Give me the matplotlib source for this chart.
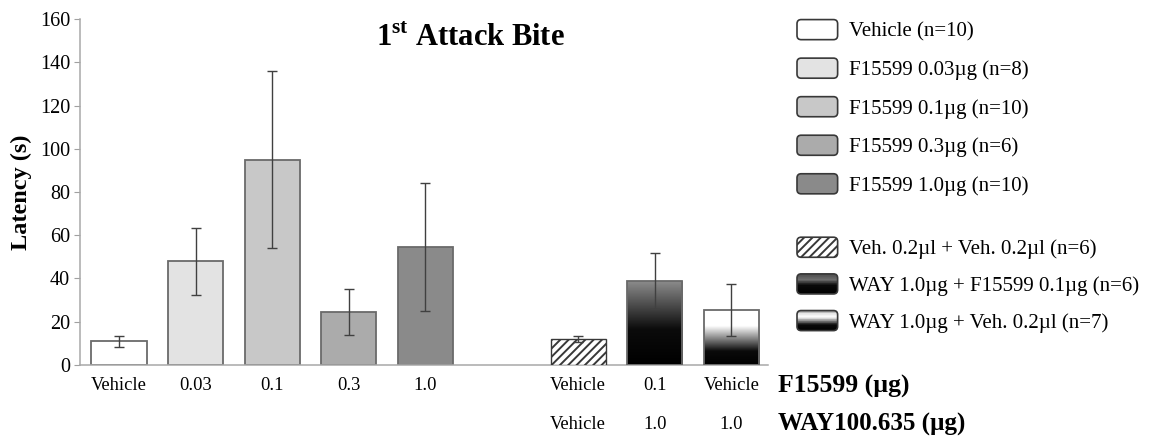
import numpy as np
import matplotlib
matplotlib.use("Agg")
import matplotlib.pyplot as plt
from matplotlib.colors import LinearSegmentedColormap
from matplotlib.patches import FancyBboxPatch, Rectangle
from matplotlib.legend_handler import HandlerBase

plt.rcParams['font.family'] = 'serif'
plt.rcParams['font.serif'] = ['Liberation Serif', 'DejaVu Serif']
plt.rcParams['mathtext.fontset'] = 'custom'
plt.rcParams['mathtext.rm'] = 'Liberation Serif'
plt.rcParams['mathtext.bf'] = 'Liberation Serif:bold'
plt.rcParams['hatch.linewidth'] = 1.4

# dose-response group (F15599 alone)
dose_labels = ['Vehicle', '0.03', '0.1', '0.3', '1.0']
dose_means = [11, 48, 95, 24.5, 54.5]
dose_err = [2.5, 15.5, 41, 10.5, 29.5]
dose_legend = ['Vehicle (n=10)', 'F15599 0.03µg (n=8)', 'F15599 0.1µg (n=10)',
               'F15599 0.3µg (n=6)', 'F15599 1.0µg (n=10)']

# antagonist group (WAY100.635 pre-treatment)
way_f15599 = ['Vehicle', '0.1', 'Vehicle']
way_dose = ['Vehicle', '1.0', '1.0']
way_means = [12, 39, 25.5]
way_err = [1.5, 13, 12]
way_legend = ['Veh. 0.2µl + Veh. 0.2µl (n=6)', 'WAY 1.0µg + F15599 0.1µg (n=6)',
              'WAY 1.0µg + Veh. 0.2µl (n=7)']

dose_colors = ['#ffffff', '#e3e3e3', '#c8c8c8', '#ababab', '#8a8a8a']
edge = '#6a6a6a'

# gradients, bottom -> top
grad_bar = [
    LinearSegmentedColormap.from_list('g1', [(0, '#000000'), (0.42, '#0b0b0b'), (1, '#8e8e8e')]),
    LinearSegmentedColormap.from_list('g2', [(0, '#000000'), (0.25, '#0b0b0b'), (0.7, '#ffffff'), (1, '#ffffff')]),
]
grad_icon = [
    LinearSegmentedColormap.from_list('i1', [(0, '#000000'), (0.45, '#0a0a0a'), (0.72, '#6e6e6e'), (1, '#4a4a4a')]),
    LinearSegmentedColormap.from_list('i2', [(0, '#000000'), (0.3, '#0a0a0a'), (0.68, '#ffffff'),
                                             (0.85, '#e6e6e6'), (1, '#8a8a8a')]),
]


class BoxHandler(HandlerBase):
    # rounded legend swatch, optionally hatched or with a vertical gradient
    def __init__(self, face='white', hatch=None, cmap=None):
        HandlerBase.__init__(self)
        self.face = face
        self.hatch = hatch
        self.cmap = cmap

    def create_artists(self, legend, orig_handle, xdescent, ydescent,
                       width, height, fontsize, trans):
        x0, y0 = -xdescent, -ydescent - 1
        h = height + 2
        box = FancyBboxPatch((x0, y0), width, h,
                             boxstyle='round,pad=0,rounding_size=3',
                             facecolor='none' if self.cmap else self.face,
                             edgecolor='#383838', lw=1.2, hatch=self.hatch,
                             transform=trans)
        artists = []
        if self.cmap is not None:
            n = 30
            for i in range(n):
                r = Rectangle((x0, y0 + h * i / n), width, h / n + 0.3,
                              facecolor=self.cmap((i + 0.5) / n), edgecolor='none',
                              transform=trans)
                r.set_clip_path(box)
                artists.append(r)
        artists.append(box)
        return artists


fig = plt.figure(figsize=(11.49, 4.37), dpi=100)
ax = fig.add_axes([0.0696, 0.1648, 0.5988, 0.7917])

x_dose = np.arange(len(dose_means))
x_way = np.arange(len(way_means)) + len(dose_means) + 1
width = 0.72

ax.bar(x_dose, dose_means, width, color=dose_colors, edgecolor=edge, lw=1.3, zorder=2)
ax.errorbar(x_dose, dose_means, yerr=dose_err, fmt='none', ecolor='#404040',
            elinewidth=1, capsize=3.5, capthick=1, zorder=4)

way_bars = ax.bar(x_way, way_means, width, color=['white', 'none', 'none'],
                  edgecolor=['#383838', edge, edge], lw=1.0, zorder=3)
way_bars[0].set_hatch('////')
for bar, cm in zip(way_bars[1:], grad_bar):
    bar.set_linewidth(1.3)
    bx, bw, bh = bar.get_x(), bar.get_width(), bar.get_height()
    im = ax.imshow(np.linspace(0, 1, 256).reshape(-1, 1), cmap=cm, origin='lower',
                   extent=[bx, bx + bw, 0, bh], aspect='auto', zorder=2)
    im.set_clip_path(bar)
ax.errorbar(x_way, way_means, yerr=way_err, fmt='none', ecolor='#404040',
            elinewidth=1, capsize=3.5, capthick=1, zorder=4)

ax.set_xlim(-0.51, x_way[-1] + 0.48)
ax.set_ylim(0, 160)
ax.set_yticks(np.arange(0, 161, 20))
ax.set_xticks(np.concatenate([x_dose, x_way]))
ax.set_xticklabels(dose_labels + way_f15599)
ax.tick_params(axis='x', length=0, pad=9, labelsize=13.3)
ax.tick_params(axis='y', length=4, color='#a0a0a0', labelsize=14.5, pad=3)
for s in ['top', 'right']:
    ax.spines[s].set_visible(False)
for s in ['left', 'bottom']:
    ax.spines[s].set_color('#a8a8a8')
    ax.spines[s].set_linewidth(1.1)

trans = ax.get_xaxis_transform()
for xp, lab in zip(x_way, way_dose):
    ax.text(xp, -0.173, lab, transform=trans, ha='center', va='center', fontsize=13.3)
ax.text(1.0145, -0.063, 'F15599 (µg)', transform=ax.transAxes, ha='left', va='center',
        fontsize=18.5, fontweight='bold')
ax.text(1.0145, -0.173, 'WAY100.635 (µg)', transform=ax.transAxes, ha='left', va='center',
        fontsize=18, fontweight='bold')

ax.set_ylabel('Latency (s)', fontsize=17.5, fontweight='bold', labelpad=6)
ax.text(0.567, 0.945, r'1$^{\mathbf{st}}$ Attack Bite', transform=ax.transAxes,
        ha='center', va='center', fontsize=22, fontweight='bold')

# legends
h1 = [Rectangle((0, 0), 1, 1) for _ in dose_legend]
hm1 = {h: BoxHandler(face=c) for h, c in zip(h1, dose_colors)}
leg1 = fig.legend(h1, dose_legend, handler_map=hm1, loc='upper left',
                  bbox_to_anchor=(797 / 1149, 0.952), frameon=False, fontsize=15,
                  borderpad=0, borderaxespad=0, handlelength=1.95, handleheight=0.9,
                  handletextpad=0.55, labelspacing=0.85)

h2 = [Rectangle((0, 0), 1, 1) for _ in way_legend]
hm2 = {h2[0]: BoxHandler(hatch='////'), h2[1]: BoxHandler(cmap=grad_icon[0]),
       h2[2]: BoxHandler(cmap=grad_icon[1])}
leg2 = fig.legend(h2, way_legend, handler_map=hm2, loc='upper left',
                  bbox_to_anchor=(797 / 1149, 0.454), frameon=False, fontsize=15,
                  borderpad=0, borderaxespad=0, handlelength=1.95, handleheight=0.9,
                  handletextpad=0.55, labelspacing=0.76)

fig.savefig('out.png', dpi=100)
